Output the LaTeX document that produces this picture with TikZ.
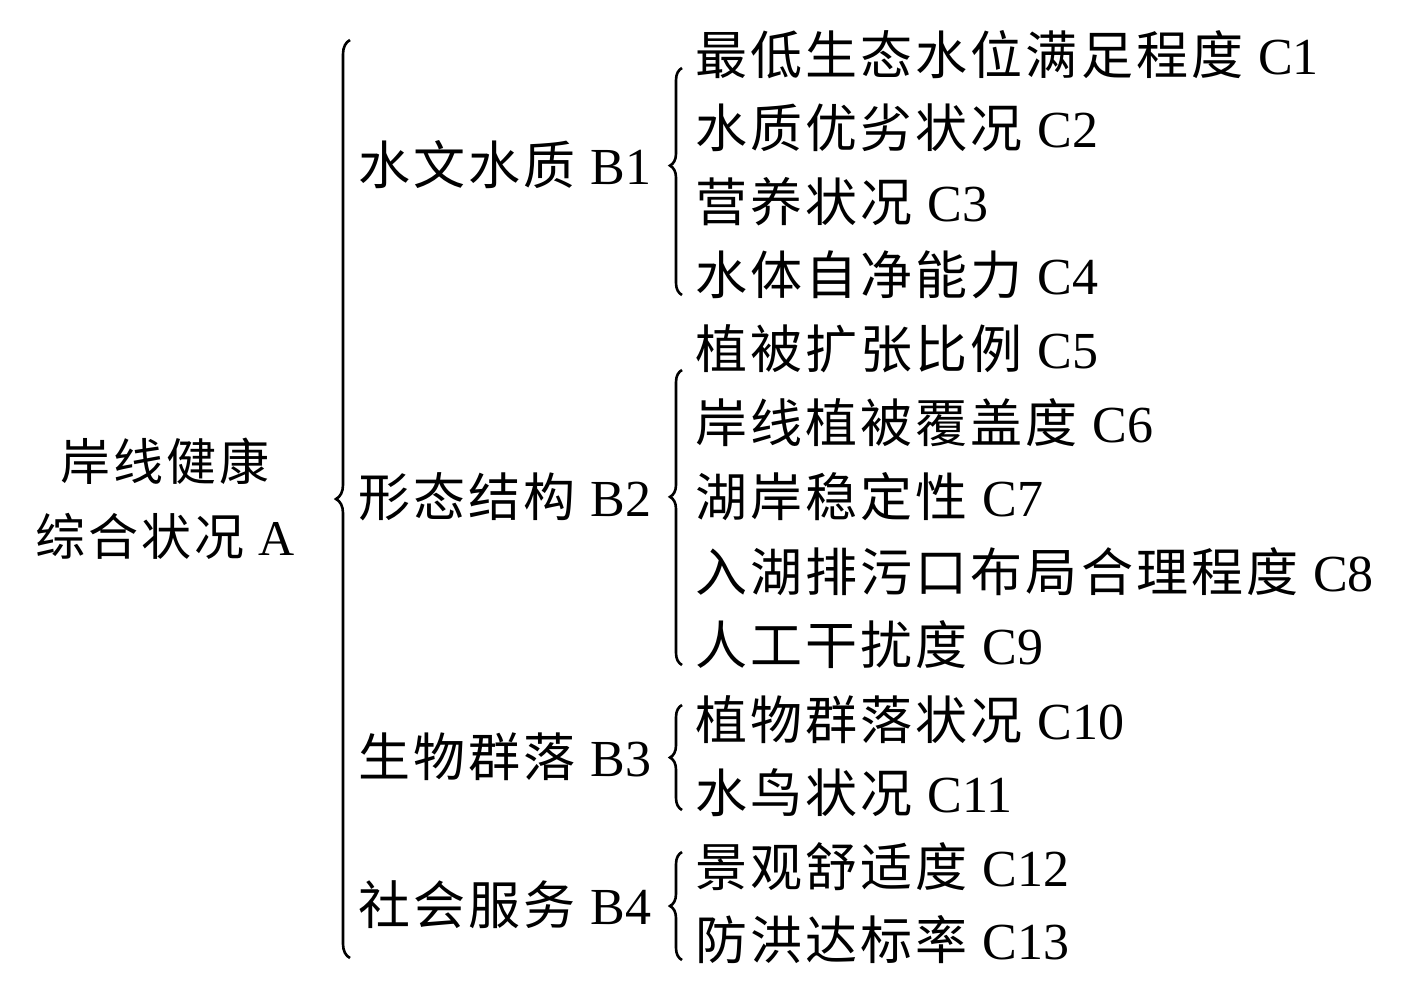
\documentclass[tikz,border=0pt]{standalone}
\usepackage{fontspec}
\setmainfont{Liberation Serif}
\newfontfamily\cjk[LetterSpace=6]{Noto Sans CJK SC}
\usetikzlibrary{decorations.pathreplacing}
\begin{document}
\begin{tikzpicture}[x=1pt,y=-1pt,
  lbl/.style={anchor=west,inner sep=0pt,font=\fontsize{52}{60}\selectfont},
  br/.style={decorate,decoration={brace,amplitude=14pt},line width=2.6pt}]
\useasboundingbox (0,0) rectangle (1404,989);
\node[anchor=center,inner sep=0pt,align=center,font=\fontsize{50}{75}\selectfont] (A) at (165,499) {\cjk 岸线健康\\\cjk 综合状况 \rmfamily A};
\draw[br] (350,958) -- (350,40);
\node[lbl] (B1) at (358,165) {\cjk 水文水质 \rmfamily B1};
\node[lbl] (B2) at (358,497) {\cjk 形态结构 \rmfamily B2};
\node[lbl] (B3) at (358,757) {\cjk 生物群落 \rmfamily B3};
\node[lbl] (B4) at (358,905) {\cjk 社会服务 \rmfamily B4};
\draw[br,decoration={brace,amplitude=12pt,aspect=0.57}] (682,295) -- (682,68);
\draw[br,decoration={brace,amplitude=12pt,aspect=0.57}] (682,665) -- (682,370);
\draw[br,decoration={brace,amplitude=12pt}] (682,810) -- (682,705);
\draw[br,decoration={brace,amplitude=12pt}] (682,960) -- (682,852);
\foreach \n/\t/\y in {
 1/最低生态水位满足程度/55, 2/水质优劣状况/128, 3/营养状况/202, 4/水体自净能力/275,
 5/植被扩张比例/349, 6/岸线植被覆盖度/423, 7/湖岸稳定性/497, 8/入湖排污口布局合理程度/572,
 9/人工干扰度/645, 10/植物群落状况/720, 11/水鸟状况/793, 12/景观舒适度/867, 13/防洪达标率/940}
 \node[lbl] (C\n) at (695,\y) {\cjk \t\ \rmfamily C\n};
\end{tikzpicture}
\end{document}
